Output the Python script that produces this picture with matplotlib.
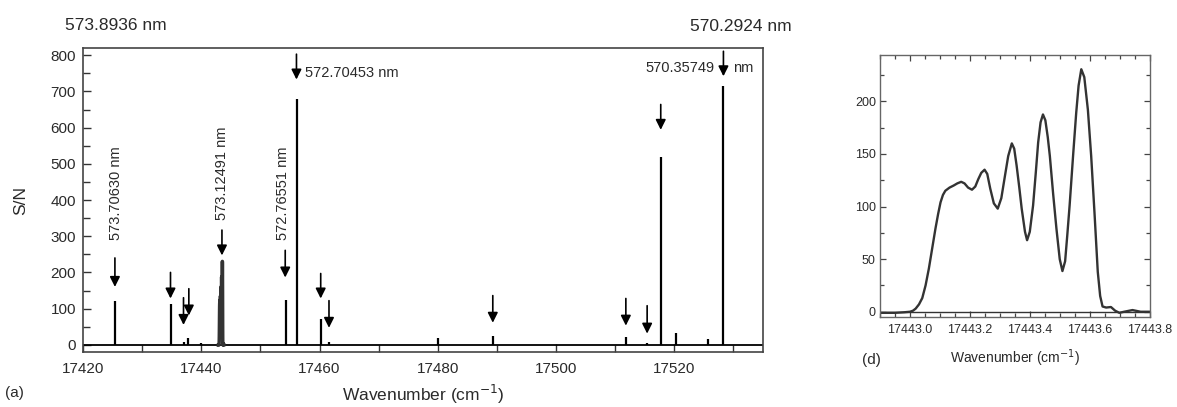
import numpy as np
import matplotlib.pyplot as plt
from matplotlib.ticker import MultipleLocator

plt.rcParams['font.family'] = ['Liberation Sans', 'DejaVu Sans']

# panel (a): isolated lines, position (cm-1) and S/N
peak_x = [17425.4, 17434.8, 17437.0, 17437.7, 17440.0, 17454.4, 17456.2,
          17460.3, 17461.6, 17480.0, 17489.3, 17511.8, 17515.4, 17517.8,
          17520.3, 17525.7, 17528.3]
peak_h = [122, 114, 8, 20, 6, 125, 680, 72, 8, 20, 25, 22, 5, 519, 33, 17, 714]

# arrows: x, shaft top, tip (S/N units)
arrow_x = [17425.4, 17434.8, 17437.0, 17437.9, 17443.5, 17454.2, 17456.1,
           17460.2, 17461.6, 17489.3, 17511.8, 17515.4, 17517.7, 17528.3]
arrow_top = [240, 200, 130, 155, 317, 261, 803, 197, 122, 136, 128, 108, 664, 811]
arrow_tip = [160, 128, 55, 81, 247, 186, 733, 128, 47, 61, 53, 31, 594, 742]

# panel (d): band profile
band_x = [17442.90, 17442.95, 17442.98, 17443.000, 17443.010, 17443.019,
          17443.030, 17443.041, 17443.052, 17443.063, 17443.074, 17443.085,
          17443.094, 17443.102, 17443.110, 17443.118, 17443.132, 17443.146,
          17443.158, 17443.171, 17443.182, 17443.194, 17443.207, 17443.218,
          17443.228, 17443.238, 17443.249, 17443.258, 17443.268, 17443.280,
          17443.293, 17443.305, 17443.317, 17443.328, 17443.340, 17443.348,
          17443.356, 17443.365, 17443.373, 17443.384, 17443.391, 17443.400,
          17443.411, 17443.420, 17443.428, 17443.436, 17443.444, 17443.452,
          17443.460, 17443.467, 17443.478, 17443.489, 17443.500, 17443.509,
          17443.518, 17443.525, 17443.533, 17443.545, 17443.555, 17443.563,
          17443.572, 17443.582, 17443.594, 17443.605, 17443.616, 17443.627,
          17443.635, 17443.643, 17443.655, 17443.671, 17443.685, 17443.699,
          17443.715, 17443.743, 17443.770, 17443.800]
band_y = [-1, -1, -0.5, 0, 1, 3,
          7, 13, 25, 41, 60, 79,
          93, 104, 111, 115, 118, 120,
          122, 123.5, 122, 118, 116, 119,
          126, 132, 135, 131, 117, 103,
          98, 108, 129, 148, 160, 155,
          139, 118, 98, 76, 68, 76,
          101, 132, 161, 180, 187.5, 182,
          166, 148, 112, 79, 50, 38.7,
          48, 72, 101, 150, 189, 215,
          230.5, 223, 192, 148, 94.5, 38,
          15, 5, 4, 4.5, 1, -1,
          0, 1.6, 0, 0]

txt = '#2a2a2a'
fig = plt.figure(figsize=(11.77, 4.07), dpi=100)

ax = fig.add_axes([0.0705, 0.135, 0.5778, 0.747])
ax.axhline(0, color='k', lw=1.3)
ax.vlines(peak_x, 0, peak_h, color='k', lw=1.6)
ax.plot(band_x, band_y, color='#333', lw=2.5)
for x, t, b in zip(arrow_x, arrow_top, arrow_tip):
    ax.annotate('', xy=(x, b), xytext=(x, t),
                arrowprops=dict(arrowstyle='-|>', color='k', lw=1.2,
                                mutation_scale=15, shrinkA=0, shrinkB=0))
ax.set_xlim(17420, 17535)
ax.set_ylim(-20, 820)
ax.xaxis.set_major_locator(MultipleLocator(20))
ax.xaxis.set_minor_locator(MultipleLocator(10))
ax.yaxis.set_major_locator(MultipleLocator(100))
ax.yaxis.set_minor_locator(MultipleLocator(50))
ax.tick_params(which='both', direction='in', labelsize=11, colors='#333',
               labelcolor=txt)
ax.tick_params(which='major', length=6, width=1)
ax.tick_params(which='minor', length=5, width=1)
ax.tick_params(axis='x', pad=7)
ax.tick_params(axis='y', pad=5)
for s in ax.spines.values():
    s.set_color('#444')
    s.set_linewidth(1.2)
ax.set_xlabel('Wavenumber (cm$^{-1}$)', fontsize=12.5, color=txt)
ax.xaxis.set_label_coords(0.5, -0.1)
ax.set_ylabel('S/N', fontsize=12.5, color=txt)
ax.yaxis.set_label_coords(-0.08, 0.5)

ax.text(17425.6, 290, '573.70630 nm', rotation=90, ha='center', va='bottom',
        fontsize=10.5, color=txt)
ax.text(17443.5, 345, '573.12491 nm', rotation=90, ha='center', va='bottom',
        fontsize=10.5, color=txt)
ax.text(17453.9, 290, '572.76551 nm', rotation=90, ha='center', va='bottom',
        fontsize=10.5, color=txt)
ax.text(17457.6, 750, '572.70453 nm', ha='left', va='center',
        fontsize=10.5, color=txt)
ax.text(17526.8, 764, '570.35749', ha='right', va='center',
        fontsize=10.5, color=txt)
ax.text(17530.0, 764, 'nm', ha='left', va='center', fontsize=10.5, color=txt)

fig.text(0.0552, 0.938, '573.8936 nm', ha='left', va='center',
         fontsize=12.5, color=txt)
fig.text(0.586, 0.934, '570.2924 nm', ha='left', va='center',
         fontsize=12.5, color=txt)
fig.text(0.004, 0.034, '(a)', ha='left', va='center', fontsize=11, color=txt)

# panel (d)
ax2 = fig.add_axes([0.7477, 0.2211, 0.2290, 0.6437])
ax2.axhline(0, color='#333', lw=1.0)
ax2.plot(band_x, band_y, color='#333', lw=1.7)
ax2.set_xlim(17442.9, 17443.8)
ax2.set_ylim(-5, 244)
ax2.xaxis.set_major_locator(MultipleLocator(0.2))
ax2.xaxis.set_minor_locator(MultipleLocator(0.05))
ax2.yaxis.set_major_locator(MultipleLocator(50))
ax2.yaxis.set_minor_locator(MultipleLocator(25))
ax2.xaxis.set_major_formatter(plt.FormatStrFormatter('%.1f'))
ax2.tick_params(which='both', direction='in', top=True, right=True,
                labelsize=9, colors='#444', labelcolor=txt)
ax2.tick_params(which='major', length=4, width=0.9)
ax2.tick_params(which='minor', length=3, width=0.9)
ax2.tick_params(axis='x', pad=5)
ax2.tick_params(axis='y', pad=3)
for s in ax2.spines.values():
    s.set_color('#666')
    s.set_linewidth(1.0)
ax2.set_xlabel('Wavenumber (cm$^{-1}$)', fontsize=10, color=txt)
ax2.xaxis.set_label_coords(0.5, -0.115)
fig.text(0.732, 0.115, '(d)', ha='left', va='center', fontsize=11, color=txt)

fig.savefig('out.png', dpi=100)
